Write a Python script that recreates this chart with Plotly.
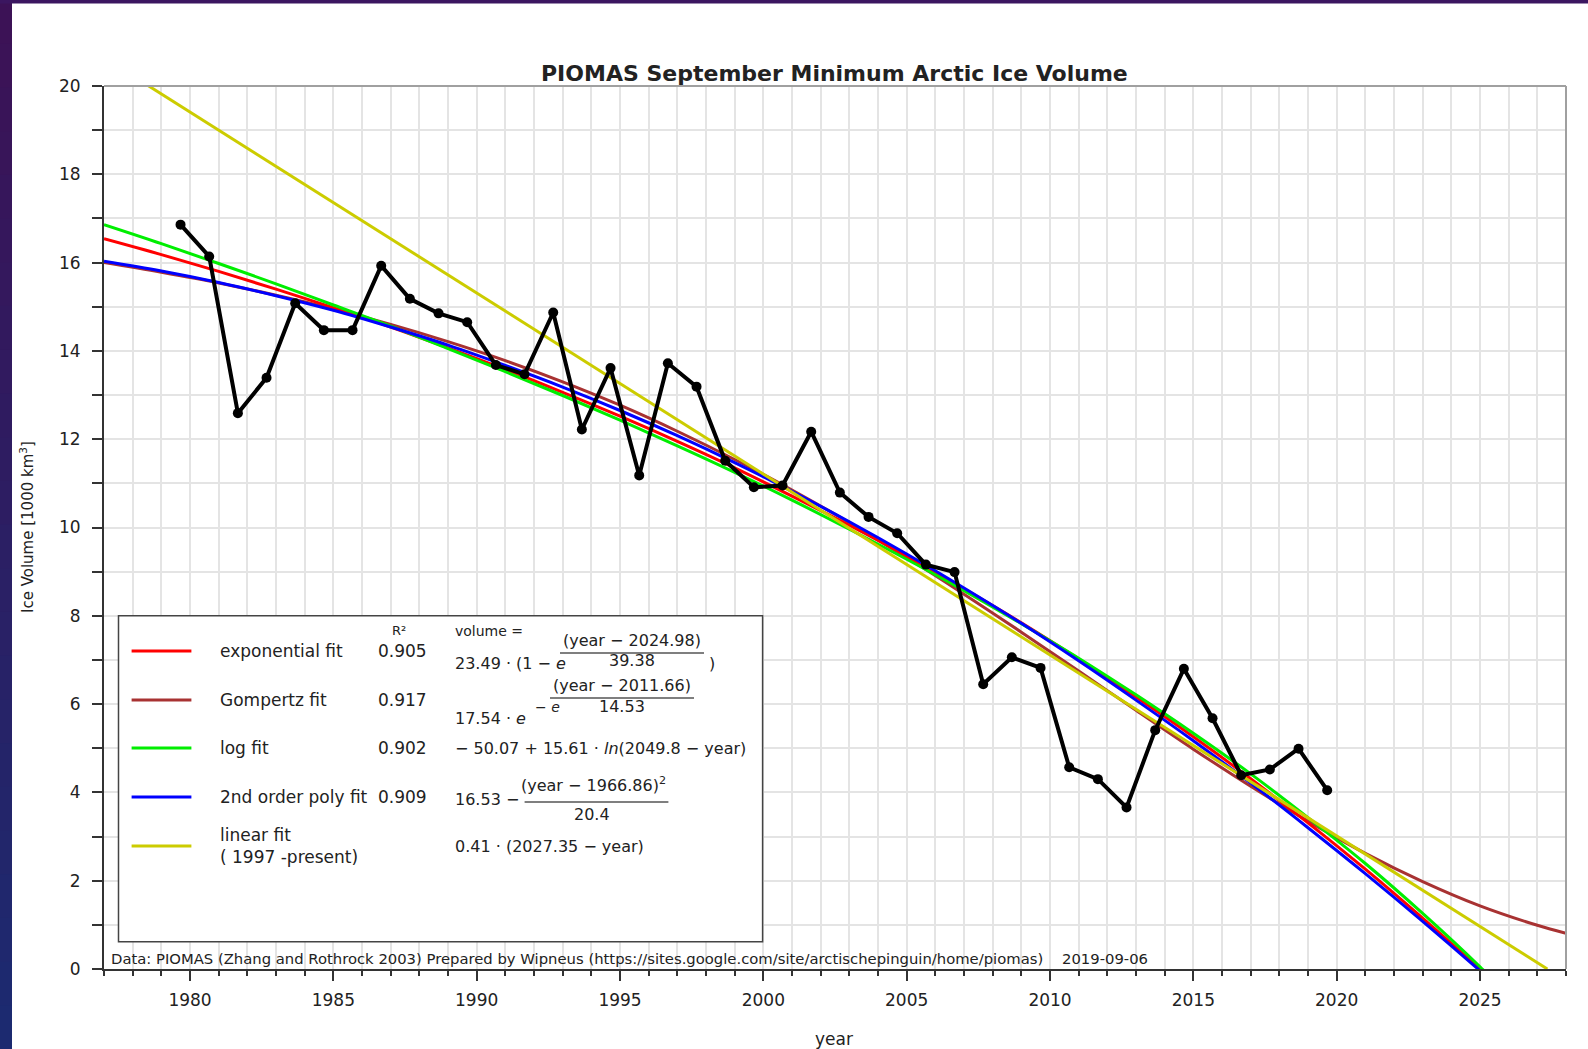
import plotly.graph_objects as go

# ---------------- data ----------------
years = list(range(1979, 2020))
volume = [16.86, 16.14, 12.59, 13.39, 15.08, 14.47, 14.47, 15.93, 15.18, 14.85,
          14.65, 13.68, 13.47, 14.87, 12.22, 13.61, 11.18, 13.72, 13.19, 11.51,
          10.91, 10.95, 12.17, 10.79, 10.24, 9.87, 9.16, 8.99, 6.45, 7.06,
          6.82, 4.57, 4.30, 3.66, 5.41, 6.80, 5.68, 4.39, 4.52, 4.99, 4.05]
sept_offset = 0.67  # September minimum, plotted at fraction of the year

fit_years = [1977, 1979, 1981, 1983, 1985, 1987, 1989, 1991, 1993, 1995, 1997, 1999,
             2001, 2003, 2005, 2007, 2009, 2011, 2013, 2015, 2017, 2019, 2021, 2023,
             2025, 2027, 2028]
exp_fit = [16.54, 16.18, 15.80, 15.40, 14.98, 14.54, 14.07, 13.58, 13.06, 12.52, 11.95, 11.35,
           10.71, 10.05, 9.35, 8.61, 7.84, 7.02, 6.16, 5.26, 4.31, 3.31, 2.26, 1.15,
           -0.01, -1.24, -1.87]
gompertz_fit = [16.00, 15.78, 15.54, 15.26, 14.95, 14.60, 14.21, 13.78, 13.30, 12.77, 12.18, 11.54,
                10.85, 10.11, 9.32, 8.49, 7.63, 6.75, 5.86, 4.98, 4.14, 3.35, 2.62, 1.98,
                1.43, 0.99, 0.81]
log_fit = [16.86, 16.43, 15.98, 15.52, 15.04, 14.56, 14.05, 13.53, 12.99, 12.43, 11.85, 11.25,
           10.62, 9.96, 9.28, 8.57, 7.82, 7.04, 6.21, 5.34, 4.42, 3.43, 2.39, 1.26,
           0.05, -1.26, -1.96]
poly_fit = [16.03, 15.81, 15.55, 15.25, 14.92, 14.54, 14.13, 13.67, 13.18, 12.65, 12.08, 11.47,
            10.82, 10.13, 9.40, 8.63, 7.83, 6.98, 6.09, 5.17, 4.21, 3.20, 2.16, 1.08,
            -0.04, -1.20, -1.79]
linear_years = [1977, 2027.35]
linear_fit = [20.64, 0.0]

x_ticks = [1980, 1985, 1990, 1995, 2000, 2005, 2010, 2015, 2020, 2025]
y_ticks = [0, 2, 4, 6, 8, 10, 12, 14, 16, 18, 20]

fit_names = ["exponential fit", "Gompertz fit", "log fit", "2nd order poly fit",
             "linear fit<br>( 1997 -present)"]
fit_r2 = ["0.905", "0.917", "0.902", "0.909", ""]
fit_colors = ["#ff0000", "#a83232", "#00ee00", "#0000ff", "#cccc00"]

# ---------------- layout geometry (pixels) ----------------
W, H = 1588, 1049
L, R, T, B = 104, 22, 86, 80
PW, PH = W - L - R, H - T - B
FONT = "DejaVu Sans"
TXT = "#222222"


def px(p):
    return (p - L) / PW


def py(p):
    return (T + PH - p) / PH


fig = go.Figure()

# fits (drawn below data)
fig.add_trace(go.Scatter(x=fit_years, y=gompertz_fit, mode="lines", line=dict(color=fit_colors[1], width=3, shape="spline"), name=fit_names[1]))
fig.add_trace(go.Scatter(x=fit_years, y=exp_fit, mode="lines", line=dict(color=fit_colors[0], width=3, shape="spline"), name=fit_names[0]))
fig.add_trace(go.Scatter(x=fit_years, y=log_fit, mode="lines", line=dict(color=fit_colors[2], width=3, shape="spline"), name=fit_names[2]))
fig.add_trace(go.Scatter(x=fit_years, y=poly_fit, mode="lines", line=dict(color=fit_colors[3], width=3, shape="spline"), name=fit_names[3]))
fig.add_trace(go.Scatter(x=linear_years, y=linear_fit, mode="lines", line=dict(color=fit_colors[4], width=3), name="linear fit"))

fig.add_trace(go.Scatter(x=[y + sept_offset for y in years], y=volume, mode="lines+markers",
                         line=dict(color="black", width=4), marker=dict(color="black", size=10),
                         name="PIOMAS"))

shapes = []
# purple/blue frame on the left and top
n = 24
c0, c1 = (60, 18, 86), (28, 42, 112)
for i in range(n):
    f = i / (n - 1)
    col = "rgb(%d,%d,%d)" % tuple(round(a + (b - a) * f) for a, b in zip(c0, c1))
    y0p, y1p = i * H / n, (i + 1) * H / n + 1
    shapes.append(dict(type="rect", xref="paper", yref="paper", x0=px(0), x1=px(12),
                       y0=py(y1p), y1=py(y0p), fillcolor=col, line=dict(width=0), layer="below"))
shapes.append(dict(type="rect", xref="paper", yref="paper", x0=px(0), x1=px(W),
                   y0=py(3.5), y1=py(0), fillcolor="#3b1660", line=dict(width=0), layer="below"))

# top and right frame of plot
shapes.append(dict(type="line", xref="paper", yref="paper", x0=0, x1=1, y0=1, y1=1,
                   line=dict(color="#a0a0a0", width=2), layer="above"))
shapes.append(dict(type="line", xref="paper", yref="paper", x0=1, x1=1, y0=0, y1=1,
                   line=dict(color="#a0a0a0", width=2), layer="above"))

# legend box
shapes.append(dict(type="rect", xref="paper", yref="paper", x0=px(118.5), x1=px(762.6),
                   y0=py(941.8), y1=py(615.7), fillcolor="white",
                   line=dict(color="#444444", width=1.5), layer="above"))
row_y = [651, 700, 748, 797, 846]
for yy, col in zip(row_y, fit_colors):
    shapes.append(dict(type="line", xref="paper", yref="paper", x0=px(131.6), x1=px(191.4),
                       y0=py(yy), y1=py(yy), line=dict(color=col, width=3), layer="above"))

# fraction bars
for x0, x1, yy in [(560, 704, 653), (550, 694, 698), (524.6, 668.4, 802)]:
    shapes.append(dict(type="line", xref="paper", yref="paper", x0=px(x0), x1=px(x1),
                       y0=py(yy), y1=py(yy), line=dict(color="#555555", width=1.3), layer="above"))

annotations = []


def txt(text, x, y, size=16, xanchor="left", bold=False, angle=0):
    annotations.append(dict(text=("<b>%s</b>" % text) if bold else text, xref="paper", yref="paper",
                            x=px(x), y=py(y), xanchor=xanchor, yanchor="middle", align="left",
                            showarrow=False, textangle=angle,
                            font=dict(family=FONT, size=size, color=TXT)))


txt("PIOMAS September Minimum Arctic Ice Volume", 834, 74, size=22, xanchor="center", bold=True)
txt("Ice Volume [1000 km<sup>3</sup>]", 27, 527, size=15, xanchor="center", angle=-90)
txt("year", 834, 1039, size=17, xanchor="center")
txt("Data: PIOMAS (Zhang and Rothrock 2003) Prepared by Wipneus "
    "(https://sites.google.com/site/arctischepinguin/home/piomas)    2019-09-06",
    109.4, 958, size=14.8)

# legend texts
txt("R²", 399, 630, size=13, xanchor="center")
txt("volume =", 452.7, 631, size=14)
label_y = [651, 700, 748, 797, 846]
for i, (nm, r2) in enumerate(zip(fit_names, fit_r2)):
    txt(nm, 217.7, label_y[i], size=17)
    if r2:
        txt(r2, 375.7, label_y[i], size=17)

# formulas
txt("23.49 · (1 − <i>e</i>", 452.7, 663, size=16)
txt("(year − 2024.98)", 632, 640, size=16, xanchor="center")
txt("39.38", 632, 660, size=16, xanchor="center")
txt(")", 707, 663, size=16)

txt("17.54 · <i>e</i>", 452.7, 718, size=16)
txt("− <i>e</i>", 533, 707, size=14)
txt("(year − 2011.66)", 622, 686, size=16, xanchor="center")
txt("14.53", 622, 706, size=16, xanchor="center")

txt("− 50.07 + 15.61 · <i>ln</i>(2049.8 − year)", 452.7, 748, size=16)

txt("16.53 −", 452.7, 799, size=16)
txt("(year − 1966.86)<sup>2</sup>", 593.5, 784, size=16, xanchor="center")
txt("20.4", 592, 814, size=16, xanchor="center")

txt("0.41 · (2027.35 − year)", 452.7, 846, size=16)

axis_common = dict(ticks="outside", tickwidth=1.5, tickcolor="#333333", showline=True,
                   linewidth=2, linecolor="#333333", showgrid=True, gridcolor="#e4e4e4",
                   gridwidth=1.5, zeroline=False,
                   tickfont=dict(family=FONT, size=17, color=TXT))

fig.update_layout(
    width=W, height=H,
    margin=dict(l=L, r=R, t=T, b=B),
    paper_bgcolor="white", plot_bgcolor="white",
    showlegend=False,
    xaxis=dict(range=[1977, 2028], tickmode="array", tickvals=x_ticks,
               ticktext=[str(v) for v in x_ticks], ticklen=10, ticklabelstandoff=5,
               minor=dict(tickmode="linear", tick0=1977, dtick=1, ticks="outside", ticklen=5,
                          tickwidth=1.5, tickcolor="#333333", showgrid=True,
                          gridcolor="#e4e4e4", gridwidth=1.5),
               **axis_common),
    yaxis=dict(range=[0, 20], tickmode="array", tickvals=y_ticks,
               ticktext=[str(v) for v in y_ticks], ticklen=10, ticklabelstandoff=8,
               minor=dict(tickmode="linear", tick0=0, dtick=1, ticks="outside", ticklen=10,
                          tickwidth=1.5, tickcolor="#333333", showgrid=True,
                          gridcolor="#e4e4e4", gridwidth=1.5),
               **axis_common),
    shapes=shapes,
    annotations=annotations,
)

fig.write_html("out.html", config={"displayModeBar": False},
               post_script="document.body.style.margin='0px';")
